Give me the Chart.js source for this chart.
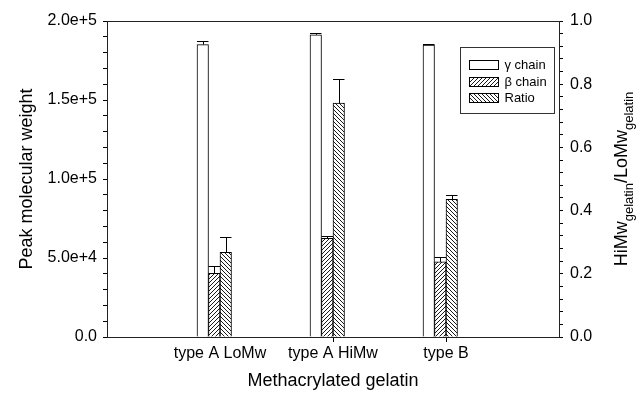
<!DOCTYPE html>
<html>
<head>
<meta charset="utf-8">
<script src="https://cdn.jsdelivr.net/npm/chart.js@4.4.0/dist/chart.umd.min.js"></script>
<style>
html, body { margin: 0; padding: 0; background: #fff; }
#wrap { width: 643px; height: 393px; }
</style>
</head>
<body>
<div id="wrap"><canvas id="chart"></canvas></div>
<script>
var categories = ['type A LoMw', 'type A HiMw', 'type B'];
var gammaChain = [185000, 191300, 184800];
var gammaErr = [2300, 900, 500];
var betaChain = [40300, 62400, 47500];
var betaErr = [4800, 1700, 3300];
var ratio = [0.268, 0.740, 0.436];
var ratioErr = [0.048, 0.077, 0.013];

var FONT = '"Liberation Sans", Arial, Helvetica, sans-serif';
var INK = '#000';

// empty slots at both ends so the categories sit at 1/4, 2/4, 3/4 of the axis
function pad(arr) { return [null].concat(arr, [null]); }

var canvas = document.getElementById('chart');
var ctx = canvas.getContext('2d');

function hatch(rising) {
    var c = document.createElement('canvas');
    c.width = 4; c.height = 4;
    var g = c.getContext('2d');
    g.fillStyle = '#fff';
    g.fillRect(0, 0, 4, 4);
    g.strokeStyle = '#000';
    g.lineWidth = 0.9;
    g.beginPath();
    if (rising) {
        g.moveTo(0, 4); g.lineTo(4, 0);
        g.moveTo(-1, 1); g.lineTo(1, -1);
        g.moveTo(3, 5); g.lineTo(5, 3);
    } else {
        g.moveTo(0, 0); g.lineTo(4, 4);
        g.moveTo(-1, 3); g.lineTo(1, 5);
        g.moveTo(3, -1); g.lineTo(5, 1);
    }
    g.stroke();
    return ctx.createPattern(c, 'repeat');
}

var errorBars = {
    id: 'errorBars',
    afterDatasetsDraw: function(chart) {
        var c = chart.ctx;
        c.save();
        c.strokeStyle = INK;
        c.lineWidth = 1;
        chart.data.datasets.forEach(function(ds, di) {
            if (!ds.errors) return;
            var meta = chart.getDatasetMeta(di);
            var scale = chart.scales[ds.yAxisID];
            meta.data.forEach(function(bar, i) {
                var v = ds.data[i];
                if (v == null) return;
                var top = Math.round(scale.getPixelForValue(v + ds.errors[i])) + 0.5;
                var x = Math.round(bar.x) + 0.5;
                var half = bar.width / 2;
                c.beginPath();
                c.moveTo(x, bar.y);
                c.lineTo(x, top);
                c.moveTo(bar.x - half, top);
                c.lineTo(bar.x + half, top);
                c.stroke();
            });
        });
        c.restore();
    }
};

var frameAndLabels = {
    id: 'frameAndLabels',
    afterDraw: function(chart) {
        var c = chart.ctx;
        var a = chart.chartArea;
        c.save();

        // top edge of the frame
        c.strokeStyle = '#222';
        c.lineWidth = 1;
        c.beginPath();
        c.moveTo(a.left, Math.round(a.top) + 0.5);
        c.lineTo(a.right, Math.round(a.top) + 0.5);
        c.stroke();

        c.fillStyle = INK;

        // bottom title
        c.font = '18px ' + FONT;
        c.textAlign = 'center';
        c.textBaseline = 'alphabetic';
        c.fillText('Methacrylated gelatin', (a.left + a.right) / 2, 386);

        // left title
        var cy = (a.top + a.bottom) / 2;
        c.save();
        c.translate(32, cy);
        c.rotate(-Math.PI / 2);
        c.fillText('Peak molecular weight', 0, 0);
        c.restore();

        // right title with subscripts
        var parts = [
            ['HiMw', 18, 0], ['gelatin', 13, 6],
            ['/LoMw', 18, 0], ['gelatin', 13, 6]
        ];
        var total = 0;
        parts.forEach(function(p) {
            c.font = p[1] + 'px ' + FONT;
            p.push(c.measureText(p[0]).width);
            total += p[3];
        });
        c.save();
        c.translate(627, cy);
        c.rotate(-Math.PI / 2);
        c.textAlign = 'left';
        var x = -total / 2;
        parts.forEach(function(p) {
            c.font = p[1] + 'px ' + FONT;
            c.fillText(p[0], x, p[2]);
            x += p[3];
        });
        c.restore();

        // legend
        var bx = Math.round(a.right) - 99 + 0.5;
        var by = Math.round(a.top) + 26 + 0.5;
        c.strokeStyle = '#333';
        c.strokeRect(bx, by, 94, 66);
        c.font = '13px ' + FONT;
        c.textAlign = 'left';
        c.textBaseline = 'middle';
        var rows = [17, 34, 50];
        chart.data.datasets.forEach(function(ds, i) {
            if (i > 2) return;
            var ry = by + rows[i];
            c.fillStyle = ds.backgroundColor;
            c.fillRect(bx + 9, ry - 4.5, 29, 9);
            c.strokeStyle = INK;
            c.strokeRect(bx + 9, Math.round(ry - 4.5) + 0.5, 29, 9);
            c.fillStyle = INK;
            c.fillText(ds.label, bx + 44, ry + 1);
        });
        c.restore();
    }
};

var tickFont = { family: FONT, size: 16 };

new Chart(canvas, {
    type: 'bar',
    data: {
        labels: pad(categories),
        datasets: [{
            label: 'γ chain',
            data: pad(gammaChain),
            errors: pad(gammaErr),
            yAxisID: 'y',
            backgroundColor: '#fff',
            borderColor: INK,
            borderWidth: 1
        }, {
            label: 'β chain',
            data: pad(betaChain),
            errors: pad(betaErr),
            yAxisID: 'y',
            backgroundColor: hatch(true),
            borderColor: INK,
            borderWidth: 1
        }, {
            label: 'Ratio',
            data: pad(ratio),
            errors: pad(ratioErr),
            yAxisID: 'y2',
            backgroundColor: hatch(false),
            borderColor: INK,
            borderWidth: 1
        }, {
            // keeps a fourth (empty) slot in each group
            label: '',
            data: [null, null, null, null, null],
            yAxisID: 'y'
        }]
    },
    options: {
        responsive: true,
        maintainAspectRatio: false,
        animation: false,
        barThickness: 11.5,
        layout: { padding: { top: 21, left: 0, right: 0, bottom: 0 } },
        plugins: {
            legend: { display: false },
            tooltip: { enabled: false }
        },
        scales: {
            x: {
                type: 'category',
                offset: false,
                grid: {
                    offset: false,
                    drawOnChartArea: false,
                    tickLength: 5,
                    color: function(c) {
                        return (c.index === 0 || c.index === 4) ? 'rgba(0,0,0,0)' : INK;
                    }
                },
                border: { color: '#222', width: 1 },
                ticks: { font: tickFont, color: INK, padding: 2, maxRotation: 0, autoSkip: false },
                afterFit: function(s) { s.height = 56; }
            },
            y: {
                position: 'left',
                min: 0,
                max: 200000,
                grid: { drawOnChartArea: false, tickLength: 4, color: INK },
                border: { color: '#222', width: 1 },
                ticks: {
                    stepSize: 10000,
                    autoSkip: false,
                    font: tickFont,
                    color: INK,
                    padding: 6,
                    callback: function(v) {
                        if (v % 50000 !== 0) return '';
                        return v === 0 ? '0.0' : v.toExponential(1);
                    }
                },
                afterFit: function(s) { s.width = 107; }
            },
            y2: {
                position: 'right',
                min: 0,
                max: 1,
                grid: { drawOnChartArea: false, tickLength: 4, color: INK },
                border: { color: '#222', width: 1 },
                ticks: {
                    stepSize: 0.04,
                    autoSkip: false,
                    font: tickFont,
                    color: INK,
                    padding: 7,
                    callback: function(v) {
                        return Math.round(v * 100) % 20 === 0 ? v.toFixed(1) : '';
                    }
                },
                afterFit: function(s) { s.width = 84; }
            }
        }
    },
    plugins: [errorBars, frameAndLabels]
});
</script>
</body>
</html>
